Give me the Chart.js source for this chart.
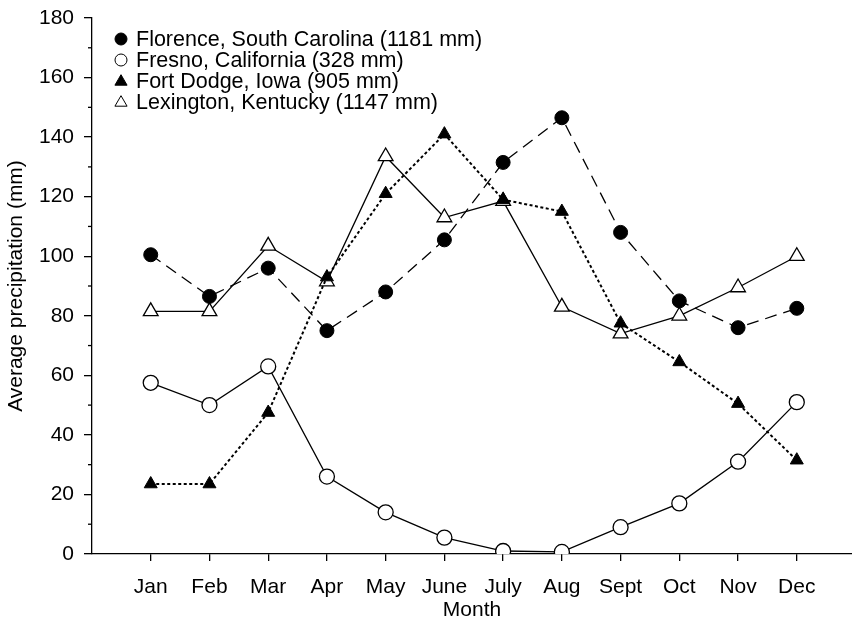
<!DOCTYPE html>
<html>
<head>
<meta charset="utf-8">
<script src="https://cdn.jsdelivr.net/npm/chart.js@4/dist/chart.umd.min.js"></script>
<style>
  html, body { margin: 0; padding: 0; background: #fff; }
  #wrap { width: 852px; height: 625px; }
</style>
</head>
<body>
<div id="wrap"><canvas id="myChart" width="852" height="625"></canvas></div>
<script>
const months = ['Jan', 'Feb', 'Mar', 'Apr', 'May', 'June', 'July', 'Aug', 'Sept', 'Oct', 'Nov', 'Dec'];

const florence = [100.5, 86.5, 96, 75, 88, 105.5, 131.5, 146.5, 108, 85, 76, 82.5];
const fresno = [57.5, 50, 63, 26, 14, 5.5, 1, 0.7, 9, 17, 31, 51];
const fortDodge = [23.5, 23.5, 47.5, 93, 121, 141, 119, 115, 77.5, 64.5, 50.5, 31.5];
const lexington = [81.5, 81.5, 103.5, 91.5, 133.5, 113, 118.5, 83, 74, 80, 89.5, 100];

const seriesLabels = [
  'Florence, South Carolina (1181 mm)',
  'Fresno, California (328 mm)',
  'Fort Dodge, Iowa (905 mm)',
  'Lexington, Kentucky (1147 mm)'
];

const yTicks = [0, 20, 40, 60, 80, 100, 120, 140, 160, 180];

const FONT = 'Liberation Sans, Arial, Helvetica, sans-serif';
const FS = 21;

const pts = arr => arr.map((v, i) => ({ x: i + 1, y: v }));

const data = {
  datasets: [
    {
      label: seriesLabels[0],
      data: pts(florence),
      borderColor: '#000', borderWidth: 1.3, borderDash: [12, 7],
      pointStyle: 'circle', pointRadius: 7, pointBackgroundColor: '#000',
      pointBorderColor: '#000', pointBorderWidth: 1
    },
    {
      label: seriesLabels[1],
      data: pts(fresno),
      borderColor: '#000', borderWidth: 1.3,
      pointStyle: 'circle', pointRadius: 7.5, pointBackgroundColor: '#fff',
      pointBorderColor: '#000', pointBorderWidth: 1.3
    },
    {
      label: seriesLabels[2],
      data: pts(fortDodge),
      borderColor: '#000', borderWidth: 2, borderDash: [3, 2.5],
      pointStyle: 'triangle', pointRadius: 7.5, pointBackgroundColor: '#000',
      pointBorderColor: '#000', pointBorderWidth: 1
    },
    {
      label: seriesLabels[3],
      data: pts(lexington),
      borderColor: '#000', borderWidth: 1.3,
      pointStyle: 'triangle', pointRadius: 8.5, pointBackgroundColor: '#fff',
      pointBorderColor: '#000', pointBorderWidth: 1.3
    }
  ]
};

function marker(ctx, style, filled, x, y, r) {
  ctx.beginPath();
  if (style === 'circle') {
    ctx.arc(x, y, r, 0, Math.PI * 2);
  } else {
    const h = r * 1.5;
    ctx.moveTo(x, y - h * 0.6);
    ctx.lineTo(x + r * 0.87, y + h * 0.4);
    ctx.lineTo(x - r * 0.87, y + h * 0.4);
    ctx.closePath();
  }
  ctx.fillStyle = filled ? '#000' : '#fff';
  ctx.fill();
  ctx.stroke();
}

// minor y ticks and the legend stacked in the top left corner
const extras = {
  id: 'extras',
  afterDraw(chart) {
    const ctx = chart.ctx;
    const y = chart.scales.y;
    const left = chart.chartArea.left;
    ctx.save();
    ctx.setLineDash([]);
    ctx.strokeStyle = '#000';
    ctx.lineWidth = 1.3;
    for (let v = 10; v < 180; v += 20) {
      const py = y.getPixelForValue(v);
      ctx.beginPath();
      ctx.moveTo(left - 4, py);
      ctx.lineTo(left, py);
      ctx.stroke();
    }
    ctx.font = '21.5px ' + FONT;
    ctx.textBaseline = 'middle';
    chart.data.datasets.forEach((ds, i) => {
      const ly = 39 + i * 21;
      ctx.lineWidth = 1;
      marker(ctx, ds.pointStyle, ds.pointBackgroundColor === '#000', 121, ly, ds.pointStyle === 'circle' ? 6 : 7);
      ctx.fillStyle = '#000';
      ctx.fillText(ds.label, 136, ly + 1);
    });
    ctx.restore();
  }
};

const config = {
  type: 'line',
  data: data,
  plugins: [extras],
  options: {
    responsive: false,
    animation: false,
    layout: { autoPadding: false, padding: { top: 18, right: 0, bottom: 0, left: 0 } },
    plugins: { legend: { display: false }, tooltip: { enabled: false } },
    scales: {
      x: {
        type: 'linear',
        min: 0,
        max: 12.94,
        afterBuildTicks: axis => { axis.ticks = months.map((m, i) => ({ value: i + 1 })); },
        afterFit: axis => { axis.height = 71; axis.paddingLeft = 0; axis.paddingRight = 0; },
        border: { color: '#000', width: 1.3 },
        grid: { drawOnChartArea: false, tickLength: 7, color: '#000', lineWidth: 1.3 },
        ticks: {
          color: '#000', font: { family: FONT, size: FS }, padding: 14,
          maxRotation: 0, autoSkip: false,
          callback: v => months[v - 1]
        },
        title: {
          display: true, text: 'Month', color: '#000',
          font: { family: FONT, size: FS }, padding: { top: 0, bottom: 2 }
        }
      },
      y: {
        min: 0,
        max: 180,
        afterBuildTicks: axis => { axis.ticks = yTicks.map(v => ({ value: v })); },
        afterFit: axis => { axis.width = 92; axis.paddingTop = 0; axis.paddingBottom = 0; },
        border: { color: '#000', width: 1.3 },
        grid: { drawOnChartArea: false, tickLength: 8, color: '#000', lineWidth: 1.3 },
        ticks: {
          color: '#000', font: { family: FONT, size: FS }, padding: 10
        },
        title: {
          display: true, text: 'Average precipitation (mm)', color: '#000',
          font: { family: FONT, size: FS }, padding: { top: 4, bottom: 0 }
        }
      }
    }
  }
};

const chart = new Chart(document.getElementById('myChart'), config);
</script>
</body>
</html>
